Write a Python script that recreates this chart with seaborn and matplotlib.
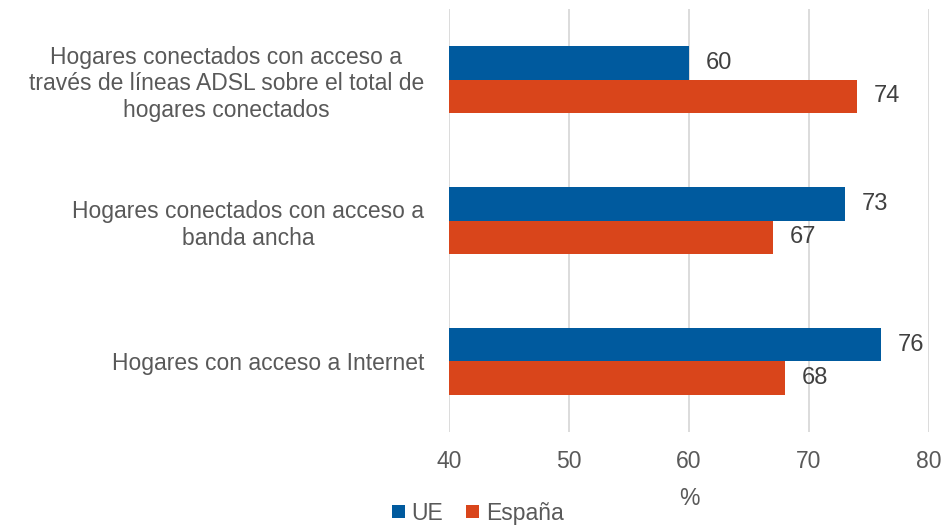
import pandas as pd
import matplotlib.pyplot as plt
import seaborn as sns

# --- Data ---
categories = [
    'Hogares conectados con acceso a\ntravés de líneas ADSL sobre el total de\nhogares conectados',
    'Hogares conectados con acceso a\nbanda ancha',
    'Hogares con acceso a Internet',
]
ue_values = [60, 73, 76]
espana_values = [74, 67, 68]
series = ['UE', 'España']
ticks = [40, 50, 60, 70, 80]

df = pd.DataFrame({
    'categoria': categories * 2,
    'valor': ue_values + espana_values,
    'serie': ['UE'] * 3 + ['España'] * 3,
})

# --- Style ---
sns.set_theme(style='white')
plt.rcParams['font.family'] = ['Liberation Sans', 'DejaVu Sans']
text_grey = '#595959'
palette = {'UE': '#005A9E', 'España': '#D9451B'}

fig = plt.figure(figsize=(9.46, 5.32), dpi=100)
ax = fig.add_axes([0.4746, 0.188, 0.5074, 0.795])

sns.barplot(data=df, y='categoria', x='valor', hue='serie', order=categories,
            hue_order=series, palette=palette, width=0.47, gap=0,
            orient='h', ax=ax, saturation=1, linewidth=0, legend=True)

ax.set_xlim(40, 80)
ax.set_xticks(ticks)
ax.grid(axis='x', color='#D9D9D9', linewidth=1.3)
ax.set_axisbelow(True)
for s in ax.spines.values():
    s.set_visible(False)

ax.tick_params(axis='x', colors=text_grey, labelsize=16.5, length=0, pad=13)
ax.tick_params(axis='y', colors=text_grey, labelsize=16.5, length=0, pad=18)
for lbl in ax.get_yticklabels():
    lbl.set_multialignment('center')
ax.set_ylabel('')
ax.set_xlabel('%', color=text_grey, fontsize=16.5, labelpad=10)

# bar value labels
for cont in ax.containers:
    ax.bar_label(cont, fmt='%d', padding=12, fontsize=17, color='#404040')

# legend at bottom
handles, labels = ax.get_legend_handles_labels()
ax.get_legend().remove()
fig.legend(handles, labels, loc='lower center', bbox_to_anchor=(0.505, -0.025),
           ncol=2, frameon=False, fontsize=16.5, labelcolor=text_grey,
           handlelength=0.55, handleheight=0.55, handletextpad=0.3,
           columnspacing=1.0)

fig.savefig('out.png', dpi=100)
